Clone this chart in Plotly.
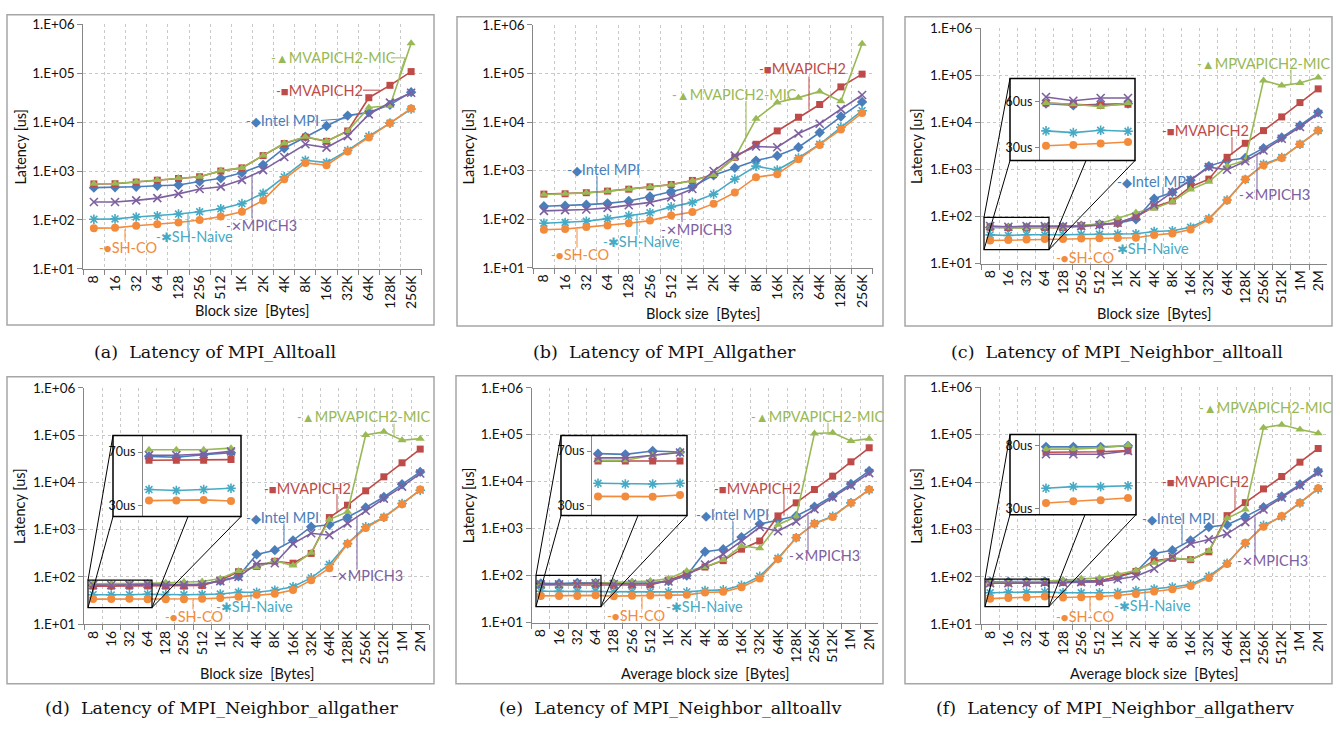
import plotly.graph_objects as go

W, H = 1340, 730

# ---------------- data ----------------
cats16 = ["8", "16", "32", "64", "128", "256", "512", "1K", "2K", "4K", "8K",
          "16K", "32K", "64K", "128K", "256K"]
cats19 = cats16 + ["512K", "1M", "2M"]

series_keys = ["intel", "mvapich2", "mic", "mpich3", "naive", "co"]

# (a) MPI_Alltoall
intel_a = [457, 464, 479, 501, 517, 612, 714, 926, 1339, 2930, 5012, 8318, 13600, 15850, 22560, 41000]
mvapich2_a = [545, 550, 595, 650, 705, 765, 1000, 1160, 2070, 3650, 4950, 4050, 6600, 31600, 56600, 108000]
mic_a = [550, 555, 605, 655, 720, 765, 1020, 1160, 2090, 3690, 5010, 4100, 6500, 19950, 21540, 410000]
mpich3_a = [233, 233, 251, 280, 341, 430, 479, 661, 1047, 1936, 3523, 3020, 5165, 14450, 25120, 39800]
naive_a = [103, 105, 115, 122, 132, 147, 169, 216, 352, 759, 1660, 1490, 2630, 5165, 9550, 18500]
co_a = [68, 69, 76, 82, 88.5, 100, 117, 147, 251, 681, 1468, 1318, 2512, 4863, 9550, 19050]

# (b) MPI_Allgather
intel_b = [185, 191, 200, 213, 238, 295, 378, 469, 805, 1148, 1614, 2037, 3044, 6100, 13000, 26060]
mvapich2_b = [330, 335, 352, 380, 416, 465, 520, 630, 830, 1884, 3497, 6590, 12590, 23030, 53080, 97000]
mic_b = [324, 334, 350, 378, 414, 461, 514, 619, 818, 1828, 11670, 25290, 31880, 42760, 26900, 408000]
mpich3_b = [149, 154, 159, 172, 195, 223, 282, 421, 985, 2037, 3140, 3044, 5820, 9250, 18540, 36060]
naive_b = [83, 86, 91, 103, 119, 136, 180, 223, 329, 670, 1242, 1031, 1828, 3497, 7810, 17180]
co_b = [61, 63, 69, 74.5, 83, 94, 119, 141, 210, 355, 734, 844, 1718, 3390, 7010, 15420]

# (c) MPI_Neighbor_alltoall
intel_c = [58.7, 57.6, 58.3, 58.7, 59.7, 63.6, 68.4, 72.3, 87.5, 239, 329, 593, 1177, 1543, 1754, 2830, 4790, 8630, 16330]
mvapich2_c = [59.1, 58.3, 57.4, 58.3, 58, 63, 68, 72.3, 99.3, 160, 214, 431, 622, 1811, 3590, 6690, 13060, 26360, 51500]
mic_c = [59.1, 58.3, 56.6, 59.1, 58, 64, 70, 91.8, 122, 148, 207, 373, 547, 1177, 1567, 78000, 60400, 68700, 90000]
mpich3_c = [63, 60.6, 62.4, 62.4, 61.6, 62.6, 65.7, 73.5, 99, 174, 329, 593, 1122, 987, 1494, 2530, 4490, 7980, 15100]
naive_c = [40.7, 39.6, 41.1, 40.5, 41, 41.5, 42, 42.5, 43, 48, 50, 59, 90, 225, 610, 1290, 1790, 3425, 6690]
co_c = [30.9, 31.5, 32.4, 33.4, 33.4, 34, 34.5, 35, 35.5, 40.5, 43.8, 53, 87, 220, 622, 1234, 1754, 3425, 6690]

# (d) MPI_Neighbor_allgather
intel_d = [66.8, 66.1, 68.0, 69.5, 69, 69, 70, 82.7, 103, 299, 368, 592, 1153, 1268, 1828, 2944, 4900, 9100, 16630]
mvapich2_d = [63.9, 63.9, 63.9, 64.4, 64, 64, 66, 85, 129, 166, 214, 195, 314, 1800, 3290, 6620, 13100, 25900, 50500]
mic_d = [71.7, 71.7, 71.7, 72.9, 75.2, 78.8, 80, 92.4, 133, 161, 221, 174, 324, 1637, 2395, 100000, 117000, 77600, 84000]
mpich3_d = [67.6, 67.6, 68.5, 70.5, 68, 68, 70, 81.3, 100, 189, 195, 505, 840, 763, 1352, 2512, 4520, 8130, 15350]
naive_d = [42.1, 41.4, 42.1, 43.1, 42, 42, 42.5, 43.5, 47.4, 47.4, 52.2, 62.1, 95.3, 183, 505, 1153, 1828, 3560, 6830]
co_d = [33.9, 33.9, 34.4, 33.6, 33.8, 33.8, 34.5, 35.6, 38, 41.8, 43.8, 53, 85.3, 153, 505, 1081, 1800, 3450, 7050]

# (e) MPI_Neighbor_alltoallv
intel_e = [68.1, 67.6, 70, 69.3, 68, 69, 70.4, 76.2, 100, 321, 365, 660, 1250, 1540, 1866, 2920, 4950, 8940, 16950]
mvapich2_e = [62.8, 62.8, 62.8, 62.8, 61, 62, 63, 80, 110, 152, 208, 365, 545, 1866, 3540, 6810, 13100, 26500, 52800]
mic_e = [63.3, 63.3, 66.9, 69.3, 70.4, 73.8, 76.2, 86.5, 125, 152, 215, 428, 383, 1212, 1807, 106700, 110000, 73800, 82600]
mpich3_e = [65, 65, 66.9, 69, 66, 67, 68, 75, 101.6, 172, 287, 545, 1083, 880, 1422, 2610, 4570, 8260, 15170]
naive_e = [46.5, 46, 46, 46.5, 45, 45, 45, 45, 45, 48, 49.5, 61.9, 96.8, 233, 640, 1291, 1836, 3540, 6700]
co_e = [36.9, 36.9, 36.7, 37.9, 36.5, 37.1, 37.7, 37.7, 38.9, 43.5, 45, 56.2, 86.5, 226, 640, 1272, 1778, 3540, 6810]

# (f) MPI_Neighbor_allgatherv
intel_f = [78.7, 78.7, 78.7, 79.5, 80, 82.2, 82.2, 99.3, 126, 311, 364, 585, 1122, 1253, 1862, 2944, 4970, 8920, 16830]
mvapich2_f = [74.4, 74.4, 74.9, 75.7, 76, 78, 80.9, 102.6, 130, 219, 245, 230, 336, 1950, 3670, 7150, 13050, 26200, 50900]
mic_f = [76.9, 76.9, 78, 80, 84.8, 91.8, 94.8, 113, 136, 199, 249, 230, 352, 1718, 2636, 140300, 161800, 127600, 107200]
mpich3_f = [72.9, 72.9, 72.9, 75.4, 75, 77, 78.3, 89, 102.6, 148, 265, 500, 614, 804, 1422, 2636, 4670, 8380, 15780]
naive_f = [46.1, 47.4, 47.4, 48.1, 46, 46, 46, 46.5, 51, 55.3, 60.8, 69, 102.6, 193, 500, 1213, 1862, 3615, 7150]
co_f = [34.6, 35.9, 36.7, 38.5, 36.6, 37.2, 38.4, 40.3, 43.6, 48.8, 54.5, 63.8, 94.8, 187, 524, 1138, 1920, 3670, 7380]

ytick_vals = [10, 100, 1000, 10000, 100000, 1000000]
ytick_text = ["1.E+01", "1.E+02", "1.E+03", "1.E+04", "1.E+05", "1.E+06"]

captions = ["(a)  Latency of MPI_Alltoall", "(b)  Latency of MPI_Allgather",
            "(c)  Latency of MPI_Neighbor_alltoall", "(d)  Latency of MPI_Neighbor_allgather",
            "(e)  Latency of MPI_Neighbor_alltoallv", "(f)  Latency of MPI_Neighbor_allgatherv"]
xtitles = ["Block size  [Bytes]", "Block size  [Bytes]", "Block size  [Bytes]",
           "Block size  [Bytes]", "Average block size  [Bytes]", "Average block size  [Bytes]"]
ytitle = "Latency [us]"

label_text = {
    "intel": "Intel MPI", "mvapich2": "MVAPICH2", "mic": "MVAPICH2-MIC",
    "mpich3": "MPICH3", "naive": "SH-Naive", "co": "SH-CO",
}
mic_label_alt = "MPVAPICH2-MIC"

panel_data = {
    "a": (cats16, dict(intel=intel_a, mvapich2=mvapich2_a, mic=mic_a, mpich3=mpich3_a, naive=naive_a, co=co_a)),
    "b": (cats16, dict(intel=intel_b, mvapich2=mvapich2_b, mic=mic_b, mpich3=mpich3_b, naive=naive_b, co=co_b)),
    "c": (cats19, dict(intel=intel_c, mvapich2=mvapich2_c, mic=mic_c, mpich3=mpich3_c, naive=naive_c, co=co_c)),
    "d": (cats19, dict(intel=intel_d, mvapich2=mvapich2_d, mic=mic_d, mpich3=mpich3_d, naive=naive_d, co=co_d)),
    "e": (cats19, dict(intel=intel_e, mvapich2=mvapich2_e, mic=mic_e, mpich3=mpich3_e, naive=naive_e, co=co_e)),
    "f": (cats19, dict(intel=intel_f, mvapich2=mvapich2_f, mic=mic_f, mpich3=mpich3_f, naive=naive_f, co=co_f)),
}
inset_ticks = {"c": ([60, 30], ["60us", "30us"]), "d": ([70, 30], ["70us", "30us"]),
               "e": ([70, 30], ["70us", "30us"]), "f": ([80, 30], ["80us", "30us"])}

# ---------------- styles / geometry (pixels) ----------------
colors = {"intel": "#4a7ebb", "mvapich2": "#be4b48", "mic": "#98b954",
          "mpich3": "#7d60a0", "naive": "#46aac5", "co": "#f38b3c"}
symbols = {"intel": "diamond", "mvapich2": "square", "mic": "triangle-up",
           "mpich3": "x-thin-open", "naive": "asterisk-open", "co": "circle"}
sizes = {"intel": 8, "mvapich2": 7, "mic": 8, "mpich3": 8, "naive": 8, "co": 8}
keys = {"intel": "◆", "mvapich2": "■", "mic": "▲", "mpich3": "✕", "naive": "✱", "co": "●"}

FONT = "Lato"
panels = ["a", "b", "c", "d", "e", "f"]
# plot area: left, right, top(1E+06), bottom(1E+01)
geom = {
    "a": (83.3, 421.7, 16.7, 266.7),
    "b": (533.3, 872.7, 17.3, 265.7),
    "c": (981.0, 1327.3, 20.7, 261.3),
    "d": (84.0, 429.3, 388.3, 630.0),
    "e": (531.7, 878.3, 388.3, 628.3),
    "f": (981.0, 1327.3, 387.7, 630.0),
}
frames = {
    "a": (7, 7, 434, 324), "b": (457, 9, 883, 325), "c": (905, 9, 1332, 325),
    "d": (7, 377, 434, 691), "e": (456, 376, 883, 691), "f": (905, 376, 1332, 691),
}
caption_pos = {"a": (215, 352), "b": (664, 352), "c": (1117, 352),
               "d": (221, 716), "e": (670, 716), "f": (1115, 716)}
xtitle_y = {"a": 309, "b": 312, "c": 312, "d": 680, "e": 680, "f": 680}
ytitle_x = {"a": 21, "b": 468, "c": 917, "d": 20, "e": 468, "f": 917}

# insets: box (l,t,r,b), vline x, first/last point x, tick pixel y's, small rect, mid connector x
insets = {
    "c": dict(box=(1010, 72, 1135, 156), vline=1039, px=(1046, 1128), ty=(95.7, 142.3),
              small=(984, 214, 1049, 247), mid=1086),
    "d": dict(box=(113, 437, 241, 520), vline=142, px=(149, 231), ty=(454, 509),
              small=(88, 585, 152, 613), mid=188),
    "e": dict(box=(561, 437, 687, 519), vline=591, px=(598, 680), ty=(453, 509),
              small=(536, 580, 601, 612), mid=638),
    "f": dict(box=(1010, 436, 1136, 518), vline=1039, px=(1046, 1128), ty=(447, 512),
              small=(985, 584, 1049, 612), mid=1085),
}

# series labels: key start (x, y) and leader polyline in pixels
labels = {
    "a": {"mic": ((272, 51), [(391, 51), (405, 51), (399, 70)]),
          "mvapich2": ((277, 84), [(363, 84), (380, 84)]),
          "intel": ((247, 115), [(321, 115), (347, 113)]),
          "mpich3": ((227, 222), [(252, 215), (252, 170)]),
          "naive": ((157, 234), [(188, 228), (188, 210)]),
          "co": ((100, 245), [(125, 238), (125, 226)])},
    "b": {"mvapich2": ((760, 62), [(809, 70), (809, 104)]),
          "mic": ((673, 88), [(746, 95), (746, 133)]),
          "intel": ((568, 165), [(597, 172), (597, 200)]),
          "mpich3": ((662, 226), [(682, 219), (682, 190)]),
          "naive": ((604, 239), [(637, 232), (637, 211)]),
          "co": ((552, 252), [(577, 245), (577, 226)])},
    "c": {"mic": ((1198, 57), [(1291, 63), (1291, 78)]),
          "mvapich2": ((1163, 125), [(1232, 132), (1232, 150)]),
          "intel": ((1118, 177), [(1163, 183), (1163, 192)]),
          "mpich3": ((1240, 191), [(1257, 185), (1257, 150)]),
          "naive": ((1113, 246), [(1146, 240), (1146, 231)]),
          "co": ((1057, 255), [(1090, 249), (1090, 236)])},
    "d": {"mic": ((298, 418), [(394, 425), (394, 438)]),
          "mvapich2": ((265, 491), [(337, 497), (337, 516)]),
          "intel": ((247, 521), [(284, 527), (284, 549)]),
          "mpich3": ((333, 580), [(357, 574), (357, 521)]),
          "naive": ((217, 612), [(251, 605), (251, 597)]),
          "co": ((166, 622), [(193, 615), (193, 605)])},
    "e": {"mic": ((752, 418), [(828, 424), (828, 434)]),
          "mvapich2": ((715, 491), [(784, 497), (784, 519)]),
          "intel": ((697, 518), [(733, 525), (733, 546)]),
          "mpich3": ((790, 560), [(808, 555), (808, 518)]),
          "naive": ((667, 612), [(697, 606), (697, 596)]),
          "co": ((608, 621), [(642, 615), (642, 602)])},
    "f": {"mic": ((1200, 408), [(1291, 414), (1291, 427)]),
          "mvapich2": ((1163, 484), [(1235, 490), (1235, 513)]),
          "intel": ((1143, 522), [(1182, 528), (1182, 548)]),
          "mpich3": ((1238, 565), [(1255, 560), (1255, 520)]),
          "naive": ((1115, 611), [(1145, 606), (1145, 595)]),
          "co": ((1057, 622), [(1090, 616), (1090, 602)])},
}


def px2x(x):
    return x / W


def px2y(y):
    return 1 - y / H


fig = go.Figure()
layout = dict(width=W, height=H, margin=dict(l=0, r=0, t=0, b=0),
              paper_bgcolor="white", plot_bgcolor="white", showlegend=False,
              font=dict(family=FONT, color="#262626"))
shapes = []
annotations = []

GRID = "#c9c9c9"
AXL = "#868686"

for i, p in enumerate(panels):
    n = i + 1
    sfx = "" if n == 1 else str(n)
    cats, vals = panel_data[p]
    l, r, t, b = geom[p]
    for k in series_keys:
        mk = dict(symbol=symbols[k], size=sizes[k], color=colors[k])
        if symbols[k].endswith("open"):
            mk["line"] = dict(color=colors[k], width=1.6)
        fig.add_trace(go.Scatter(x=cats, y=vals[k], mode="lines+markers", name=label_text[k],
                                 line=dict(color=colors[k], width=1.6), marker=mk,
                                 xaxis="x" + sfx, yaxis="y" + sfx, cliponaxis=False))
    layout["xaxis" + sfx] = dict(
        domain=[px2x(l), px2x(r)], anchor="y" + sfx, type="category",
        categoryorder="array", categoryarray=cats, range=[-0.5, len(cats) - 0.5],
        tickson="boundaries", ticks="outside", ticklen=5, tickcolor=AXL,
        showline=True, linecolor=AXL, linewidth=1, showgrid=True, gridcolor=GRID,
        griddash="dot", gridwidth=1, tickangle=-90, zeroline=False,
        tickfont=dict(family=FONT, size=14, color="#111"))
    layout["yaxis" + sfx] = dict(
        domain=[px2y(b), px2y(t)], anchor="x" + sfx, type="log", range=[1, 6],
        tickvals=ytick_vals, ticktext=ytick_text, ticks="outside", ticklen=5, tickcolor=AXL,
        showline=True, linecolor=AXL, linewidth=1, showgrid=True, gridcolor=GRID,
        griddash="dot", gridwidth=1, zeroline=False,
        tickfont=dict(family=FONT, size=13.5, color="#111"))

    # panel frame
    fx0, fy0, fx1, fy1 = frames[p]
    shapes.append(dict(type="rect", xref="paper", yref="paper", layer="below",
                       x0=px2x(fx0), x1=px2x(fx1), y0=px2y(fy1), y1=px2y(fy0),
                       line=dict(color="#a6a6a6", width=1.5), fillcolor="rgba(0,0,0,0)"))
    # captions
    cx, cy = caption_pos[p]
    annotations.append(dict(text=captions[i], xref="paper", yref="paper", x=px2x(cx), y=px2y(cy),
                            showarrow=False, xanchor="center", yanchor="middle",
                            font=dict(family="DejaVu Serif", size=17.5, color="#111")))
    # axis titles
    annotations.append(dict(text=xtitles[i], xref="paper", yref="paper", x=px2x((l + r) / 2),
                            y=px2y(xtitle_y[p]), showarrow=False, xanchor="center", yanchor="middle",
                            font=dict(family=FONT, size=14.5, color="#111")))
    annotations.append(dict(text=ytitle, xref="paper", yref="paper", x=px2x(ytitle_x[p]),
                            y=px2y((t + b) / 2), showarrow=False, xanchor="center", yanchor="middle",
                            textangle=-90, font=dict(family=FONT, size=14.5, color="#111")))
    # series labels + leader lines
    for k, ((kx, ky), leader) in labels[p].items():
        name = label_text[k]
        if k == "mic" and p in ("c", "d", "e", "f"):
            name = mic_label_alt
        txt = "<span style='font-size:13px'>-" + keys[k] + "</span>" + name
        annotations.append(dict(text=txt, xref="paper", yref="paper", x=px2x(kx - 3), y=px2y(ky),
                                showarrow=False, xanchor="left", yanchor="middle",
                                font=dict(family=FONT, size=14.5, color=colors[k])))
        path = "M " + " L ".join("%.5f,%.5f" % (px2x(a), px2y(c)) for a, c in leader)
        shapes.append(dict(type="path", xref="paper", yref="paper", path=path, layer="above",
                           line=dict(color=colors[k], width=1)))

# insets
for j, p in enumerate(["c", "d", "e", "f"]):
    n = 7 + j
    sfx = str(n)
    cats, vals = panel_data[p]
    g = insets[p]
    bl, bt, br, bb = g["box"]
    p0, p3 = g["px"]
    step = (p3 - p0) / 3.0
    tv, tt = inset_ticks[p]
    ty_hi, ty_lo = g["ty"]
    upx = (tv[0] - tv[1]) / (ty_lo - ty_hi)
    yhi = tv[0] + (ty_hi - bt) * upx
    ylo = tv[1] - (bb - ty_lo) * upx
    for k in series_keys:
        mk = dict(symbol=symbols[k], size=sizes[k], color=colors[k])
        if symbols[k].endswith("open"):
            mk["line"] = dict(color=colors[k], width=1.6)
        fig.add_trace(go.Scatter(x=list(range(4)), y=vals[k][:4], mode="lines+markers",
                                 line=dict(color=colors[k], width=1.6), marker=mk,
                                 xaxis="x" + sfx, yaxis="y" + sfx, name=label_text[k]))
    layout["xaxis" + sfx] = dict(domain=[px2x(bl), px2x(br)], anchor="y" + sfx,
                                 range=[(bl - p0) / step, (br - p0) / step], visible=False)
    layout["yaxis" + sfx] = dict(domain=[px2y(bb), px2y(bt)], anchor="free", position=px2x(g["vline"]),
                                 range=[ylo, yhi], tickvals=tv, ticktext=tt, ticks="outside",
                                 ticklen=4, tickcolor=AXL, showline=True, linecolor=AXL,
                                 showgrid=False, zeroline=False,
                                 tickfont=dict(family=FONT, size=12.5, color="#111"))
    shapes.append(dict(type="rect", xref="paper", yref="paper", layer="above",
                       x0=px2x(bl), x1=px2x(br), y0=px2y(bb), y1=px2y(bt),
                       line=dict(color="black", width=1.5), fillcolor="rgba(0,0,0,0)"))
    sl, st, sr, sb = g["small"]
    shapes.append(dict(type="rect", xref="paper", yref="paper", layer="above",
                       x0=px2x(sl), x1=px2x(sr), y0=px2y(sb), y1=px2y(st),
                       line=dict(color="black", width=1.2), fillcolor="rgba(0,0,0,0)"))
    for (ax, ay), (bx, by) in [((sl, st), (bl, bt)), ((sl, sb), (bl, bb)),
                               ((sr, sb), (g["mid"], bb)), ((sr, sb), (br, bb))]:
        shapes.append(dict(type="line", xref="paper", yref="paper", layer="above",
                           x0=px2x(ax), y0=px2y(ay), x1=px2x(bx), y1=px2y(by),
                           line=dict(color="black", width=1)))

layout["shapes"] = shapes
layout["annotations"] = annotations
fig.update_layout(**layout)
fig.write_html("out.html")
